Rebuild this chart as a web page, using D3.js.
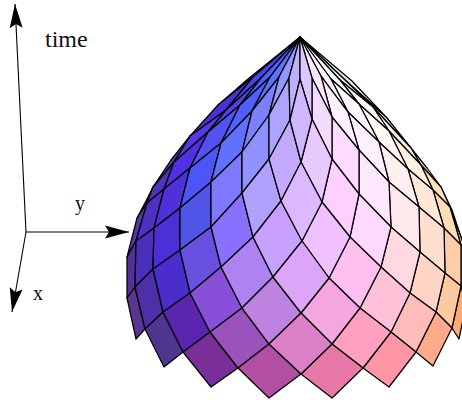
<!DOCTYPE html>
<html>
<head>
<meta charset="utf-8">
<script src="https://cdn.jsdelivr.net/npm/d3@7"></script>
<style>
    html, body { margin: 0; padding: 0; background: #fff; }
    svg { display: block; }
    text { font-family: "Liberation Serif", serif; fill: #111; }
</style>
</head>
<body>
<svg id="chart"></svg>
<script>
// Surface mesh: ring number counts down from the apex,
// pos is the horizontal position and time the height on the page
const apexPos = 300;
const apexTime = 363;

const ringFirstCol = [-12, -11, -10, -11, -10, -11, -10, -9, -8, -7];

const ring1Pos = [248, 253, 261, 270, 279, 289, 300, 312, 321, 331, 340, 345, 352];
const ring1Time = [321, 323, 322, 323, 323, 322, 321, 322, 324, 321, 320, 320, 319];
const ring2Pos = [218, 226, 240, 252, 269, 290, 312, 332, 348, 359, 373, 387];
const ring2Time = [295, 290, 295, 289, 285, 280, 281, 283, 288, 296, 293, 282];
const ring3Pos = [190, 208, 221, 242, 269, 301, 332, 359, 379, 389, 411];
const ring3Time = [264, 268, 257, 248, 241, 238, 241, 250, 258, 269, 252];
const ring4Pos = [171, 174, 190, 211, 242, 281, 322, 359, 389, 408, 421, 427];
const ring4Time = [240, 238, 232, 218, 207, 199, 198, 206, 218, 231, 235, 232];
const ring5Pos = [153, 164, 180, 211, 253, 302, 350, 391, 419, 433, 441];
const ring5Time = [213, 211, 192, 173, 163, 159, 163, 173, 193, 210, 213];
const ring6Pos = [146, 147, 154, 180, 221, 273, 329, 381, 420, 444, 450, 452];
const ring6Time = [199, 197, 172, 150, 133, 123, 122, 133, 148, 172, 193, 190];
const ring7Pos = [137, 136, 153, 190, 242, 301, 360, 410, 445, 461, 462];
const ring7Time = [182, 159, 131, 107, 92, 87, 92, 107, 127, 155, 160];
const ring8Pos = [127, 135, 163, 210, 269, 332, 391, 436, 461, 470];
const ring8Time = [143, 113, 88, 68, 56, 56, 68, 88, 114, 138];
const ring9Pos = [127, 145, 183, 238, 301, 363, 416, 452, 466];
const ring9Time = [102, 71, 48, 32, 26, 32, 48, 72, 95];
const ring10Pos = [136, 164, 211, 269, 332, 389, 433, 459];
const ring10Time = [61, 33, 13, 2, 2, 13, 34, 61];

// Colour of each diamond, by the ring of its top corner, left to right
const faceFirstCol = [-11, -10, -9, -10, -9, -10, -9, -8, -7];
const faces0 = ['#4030d0', '#4a40f0', '#4a60ff', '#6070ff', '#9098ff', '#bfb0ff', '#dcc8ff', '#fce8ff', '#fff4ff', '#fdfaff', '#f0f4ea', '#dcecdc'];
const faces1 = ['#4a30d8', '#5540e8', '#5060ff', '#7a80ff', '#aca4ff', '#cfb8ff', '#f4dcff', '#fff0ff', '#fff8ff', '#fbf6f0', '#e4f0e4'];
const faces2 = ['#5538e0', '#5550f0', '#6070ff', '#9090ff', '#c4aaff', '#e8c8ff', '#ffdcff', '#fff0ff', '#fff8f4', '#f8f0e0'];
const faces3 = ['#4f35b0', '#5030e0', '#4c55f5', '#7e78ff', '#b0a0ff', '#dcb8ff', '#ffd0ff', '#ffe8ff', '#fff0f0', '#fff0e0', '#ffe4c0'];
const faces4 = ['#5032c0', '#5030d8', '#5055e8', '#8a70ff', '#c8a0ff', '#f0c0ff', '#ffd8ff', '#ffe8ec', '#ffe8d8', '#ffe0b8'];
const faces5 = ['#5538b0', '#4f30c5', '#4d2fd8', '#6a50e0', '#ae82f0', '#dda5f8', '#ffc0f0', '#ffd8e0', '#ffe0d0', '#ffdcb8', '#ffd8a8'];
const faces6 = ['#5535a8', '#4a30b8', '#4a2dca', '#8850d8', '#be82e0', '#f5a5e0', '#ffc0d8', '#ffd5c8', '#ffcca8', '#ffd8a8'];
const faces7 = ['#553098', '#4f2fa8', '#5c25b0', '#9b52bc', '#db80c8', '#ffa0c0', '#ffbcb8', '#ffc9a0', '#ffb880'];
const faces8 = ['#5a3590', '#4d3590', '#7a2e9a', '#b34fa3', '#e878a8', '#ff95a5', '#ffaa8c', '#ffab70'];

// Axes: shared origin and the three arrow tips
const axisNames = ['time', 'y', 'x'];
const axisEndPos = [15, 129, 12];
const axisEndTime = [396, 168, 88];
const originPos = 26;
const originTime = 168;
const labelPos = [45, 75, 33];
const labelTime = [353, 190, 100];
const labelSizes = [24, 20, 20];

const width = 462;
const height = 400;

const x = d3.scaleLinear().domain([0, width]).range([0, width]);
const y = d3.scaleLinear().domain([0, height]).range([height, 0]);

const svg = d3.select('#chart').attr('width', width).attr('height', height);

const ringPos = [ring1Pos, ring2Pos, ring3Pos, ring4Pos, ring5Pos, ring6Pos, ring7Pos, ring8Pos, ring9Pos, ring10Pos];
const ringTime = [ring1Time, ring2Time, ring3Time, ring4Time, ring5Time, ring6Time, ring7Time, ring8Time, ring9Time, ring10Time];
const faceColors = [faces0, faces1, faces2, faces3, faces4, faces5, faces6, faces7, faces8];

// Corner of the mesh at a ring and column, ring 0 is the apex
function corner(ring, col) {
    if (ring === 0) return [x(apexPos), y(apexTime)];
    const i = (col - ringFirstCol[ring - 1]) / 2;
    return [x(ringPos[ring - 1][i]), y(ringTime[ring - 1][i])];
}

const faces = [];
faceColors.forEach((row, ring) => {
    row.forEach((color, i) => {
        const col = faceFirstCol[ring] + i * 2;
        faces.push({
            col: col,
            color: color,
            points: [corner(ring, col), corner(ring + 1, col - 1), corner(ring + 2, col), corner(ring + 1, col + 1)]
        });
    });
});

// Outer diamonds first so the folded edges sit behind the front ones
faces.sort((a, b) => Math.abs(b.col) - Math.abs(a.col));

const line = d3.line().curve(d3.curveLinearClosed);

svg.append('g')
    .selectAll('path')
    .data(faces)
    .enter().append('path')
    .attr('d', d => line(d.points))
    .attr('fill', d => d.color)
    .attr('stroke', '#000')
    .attr('stroke-width', 1.25)
    .attr('stroke-linejoin', 'round');

// Arrowheads drawn along the axis direction
function arrowHead(tip, base) {
    const dx = tip[0] - base[0];
    const dy = tip[1] - base[1];
    const len = Math.hypot(dx, dy);
    const ux = dx / len;
    const uy = dy / len;
    const at = (back, side) => [tip[0] - ux * back - uy * side, tip[1] - uy * back + ux * side];
    return [tip, at(24, 6.5), at(20, 0), at(24, -6.5)];
}

const axes = svg.append('g');
const origin = [x(originPos), y(originTime)];

axisNames.forEach((name, i) => {
    const tip = [x(axisEndPos[i]), y(axisEndTime[i])];
    axes.append('line')
        .attr('x1', origin[0])
        .attr('y1', origin[1])
        .attr('x2', tip[0])
        .attr('y2', tip[1])
        .attr('stroke', '#000')
        .attr('stroke-width', 1.1);
    axes.append('path')
        .attr('d', line(arrowHead(tip, origin)))
        .attr('fill', '#000');
    axes.append('text')
        .attr('x', x(labelPos[i]))
        .attr('y', y(labelTime[i]))
        .attr('font-size', labelSizes[i])
        .text(name);
});
</script>
</body>
</html>
